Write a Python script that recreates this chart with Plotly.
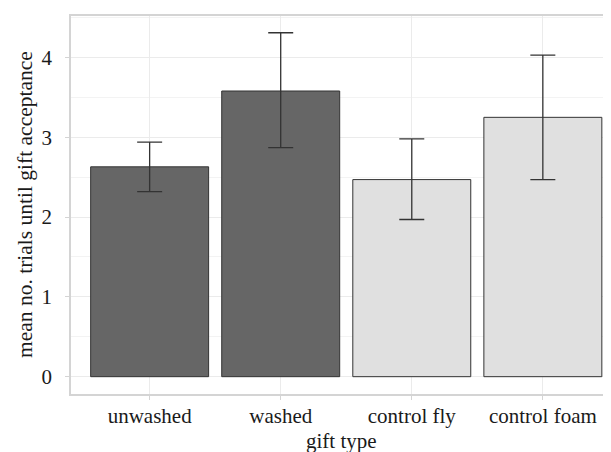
import plotly.graph_objects as go

categories = ["unwashed", "washed", "control fly", "control foam"]
means = [2.63, 3.58, 2.47, 3.25]
err_upper = [2.94, 4.31, 2.98, 4.03]
err_lower = [2.32, 2.87, 1.97, 2.47]
fills = ["#666666", "#666666", "#e0e0e0", "#e0e0e0"]
y_ticks = [0, 1, 2, 3, 4]
x_title = "gift type"
y_title = "mean no. trials until gift acceptance"

plus = [u - m for u, m in zip(err_upper, means)]
minus = [m - l for m, l in zip(means, err_lower)]

font_family = "Liberation Serif, Times New Roman, serif"

# the page body has an 8px default margin, so margins are offset by it
W, H = 611, 452
ML, MR, MT, MB = 63, 8, 8, 66
PW, PH = W - ML - MR, H - MT - MB

fig = go.Figure()
fig.add_trace(go.Bar(
    x=list(range(len(categories))), y=means, width=0.9,
    marker=dict(color=fills, line=dict(color="#333333", width=1)),
    error_y=dict(type="data", symmetric=False, array=plus, arrayminus=minus,
                 color="#333333", thickness=1.3, width=12.5),
    showlegend=False,
))

fig.update_layout(
    width=W, height=H,
    margin=dict(l=ML, r=MR, t=MT, b=MB, autoexpand=False),
    paper_bgcolor="white", plot_bgcolor="white",
    font=dict(family=font_family, size=21, color="#1a1a1a"),
    bargap=0.1,
    xaxis=dict(
        range=[-0.6, 3.52], tickmode="array",
        tickvals=list(range(len(categories))), ticktext=categories,
        showgrid=True, gridcolor="#ebebeb", gridwidth=1,
        showline=True, linecolor="#d4d4d4", linewidth=1.5, mirror=True,
        ticks="outside", ticklen=4, tickcolor="#d4d4d4",
        zeroline=False, automargin=False, ticklabelstandoff=-2,
        tickfont=dict(size=21, color="#1a1a1a"),
    ),
    yaxis=dict(
        range=[-0.217, 4.52], tickmode="array", tickvals=y_ticks,
        ticktext=[str(v) for v in y_ticks],
        showgrid=True, gridcolor="#ebebeb", gridwidth=1,
        minor=dict(dtick=0.5, tick0=0, showgrid=True, gridcolor="#f3f3f3", gridwidth=1),
        showline=True, linecolor="#d4d4d4", linewidth=1.5, mirror=False,
        ticks="outside", ticklen=4, tickcolor="#d4d4d4",
        zeroline=False, automargin=False, ticklabelstandoff=9,
        tickfont=dict(size=21, color="#1a1a1a"),
    ),
    annotations=[
        dict(text=x_title, xref="paper", yref="paper", x=0.5, y=-47 / PH,
             xanchor="center", yanchor="middle", showarrow=False,
             font=dict(size=21, color="#1a1a1a")),
        dict(text=y_title, xref="paper", yref="paper", x=-46 / PW, y=0.5,
             xanchor="center", yanchor="middle", textangle=-90, showarrow=False,
             font=dict(size=21.5, color="#1a1a1a")),
    ],
)

fig.write_html("out.html")
